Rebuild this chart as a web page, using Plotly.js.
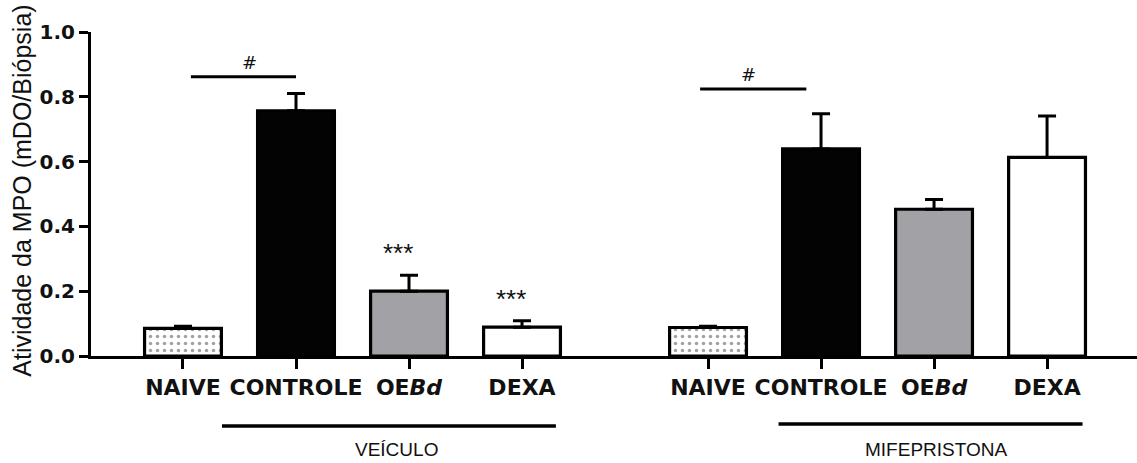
<!DOCTYPE html>
<html>
<head>
<meta charset="utf-8">
<script src="https://cdn.plot.ly/plotly-3.0.1.min.js"></script>
<style>html,body{margin:0;padding:0;background:#fff;}#chart{width:1137px;height:463px;}</style>
</head>
<body>
<div id="chart"></div>
<script>
// ---- data ----
const categories = ["NAIVE", "CONTROLE", "OE<i>Bd</i>", "DEXA"];
const groups = ["VEÍCULO", "MIFEPRISTONA"];
const veiculoMean = [0.085, 0.757, 0.200, 0.089];
const veiculoSEM  = [0.007, 0.053, 0.049, 0.020];
const mifeMean    = [0.088, 0.639, 0.453, 0.613];
const mifeSEM     = [0.004, 0.109, 0.030, 0.128];
const sigVeiculo  = ["#", "", "***", "***"];
const sigMife     = ["#", "", "", ""];
const yTicks = [0.0, 0.2, 0.4, 0.6, 0.8, 1.0];

// ---- layout helpers (positions, not data) ----
const groupOffset = [0, 4.646];
const xs = g => categories.map((_, i) => i + groupOffset[g]);
const fillColors = ["#ffffff", "#030303", "#a2a2a6", "#ffffff"];
const patterns = [".", "", "", ""];

function barTrace(g, means, sem) {
  return {
    type: "bar",
    x: xs(g),
    y: means,
    width: 0.68,
    marker: {
      color: fillColors,
      line: {color: "#000", width: 3.2},
      pattern: {shape: patterns, fgcolor: "#222", bgcolor: "#fff", size: 7, solidity: 0.2, fillmode: "overlay"}
    },
    error_y: {type: "data", symmetric: false, array: sem, arrayminus: sem.map(() => 0),
              color: "#000", thickness: 3, width: 9},
    hoverinfo: "skip",
    showlegend: false
  };
}

const data = [barTrace(0, veiculoMean, veiculoSEM), barTrace(1, mifeMean, mifeSEM)];

const shapes = [];
const annotations = [];

// significance bracket lines "#"
const hashBars = [
  {g: 0, y: 0.862, x0: 0.07, x1: 1.0, ty: 0.905, tx: 0.59},
  {g: 1, y: 0.824, x0: -0.07, x1: 0.87, ty: 0.868, tx: 0.36}
];
hashBars.forEach(h => {
  shapes.push({type: "line", xref: "x", yref: "y",
    x0: h.x0 + groupOffset[h.g], x1: h.x1 + groupOffset[h.g], y0: h.y, y1: h.y,
    line: {color: "#000", width: 3}});
  annotations.push({xref: "x", yref: "y", x: h.tx + groupOffset[h.g], y: h.ty,
    text: (h.g === 0 ? sigVeiculo : sigMife)[0], showarrow: false,
    font: {family: "DejaVu Sans", size: 18, color: "#111"}});
});

// stars above bars
sigVeiculo.forEach((s, i) => {
  if (s.indexOf("*") === 0) {
    annotations.push({xref: "x", yref: "y", x: i + groupOffset[0] - 0.1,
      y: veiculoMean[i] + veiculoSEM[i], yshift: 22, text: s, showarrow: false,
      font: {family: "Liberation Sans", size: 26, color: "#111"}});
  }
});

// group bars and labels below axis
const groupLines = [
  {x0: 0.345, x1: 3.30, y: -0.216, tx: 1.89},
  {x0: 0.624, x1: 3.314, y: -0.210, tx: 2.02}
];
groupLines.forEach((gl, g) => {
  shapes.push({type: "line", xref: "x", yref: "paper",
    x0: gl.x0 + groupOffset[g], x1: gl.x1 + groupOffset[g], y0: gl.y, y1: gl.y,
    line: {color: "#000", width: 3.5}});
  annotations.push({xref: "x", yref: "paper", x: gl.tx + groupOffset[g], y: -0.29,
    yanchor: "middle", text: groups[g], showarrow: false,
    font: {family: "Liberation Sans", size: 19, color: "#111"}});
});

// y axis title
annotations.push({xref: "paper", yref: "paper", x: -0.066, y: 0.51, xanchor: "center", yanchor: "middle",
  textangle: -90, text: "Atividade da MPO (mDO/Biópsia)", showarrow: false,
  font: {family: "Liberation Sans", size: 25, color: "#111"}});

const layout = {
  width: 1137, height: 463,
  margin: {l: 91, r: 0, t: 32, b: 107},
  paper_bgcolor: "#fff", plot_bgcolor: "#fff",
  showlegend: false,
  xaxis: {
    range: [-0.814, 8.442],
    tickvals: xs(0).concat(xs(1)),
    ticktext: categories.concat(categories),
    ticks: "outside", ticklen: 10, tickwidth: 3, tickcolor: "#000",
    showline: true, linewidth: 3, linecolor: "#000",
    showgrid: false, zeroline: false,
    tickfont: {family: "DejaVu Sans", size: 22, color: "#111", weight: "bold"}
  },
  yaxis: {
    range: [0, 1.0],
    tickvals: yTicks, tickformat: ".1f",
    ticks: "outside", ticklen: 9, tickwidth: 3, tickcolor: "#000",
    showline: true, linewidth: 3, linecolor: "#000",
    showgrid: false, zeroline: false,
    tickfont: {family: "DejaVu Sans", size: 20, color: "#111", weight: "bold"}
  },
  shapes: shapes,
  annotations: annotations
};

Plotly.newPlot("chart", data, layout, {staticPlot: true, displayModeBar: false});
</script>
</body>
</html>
